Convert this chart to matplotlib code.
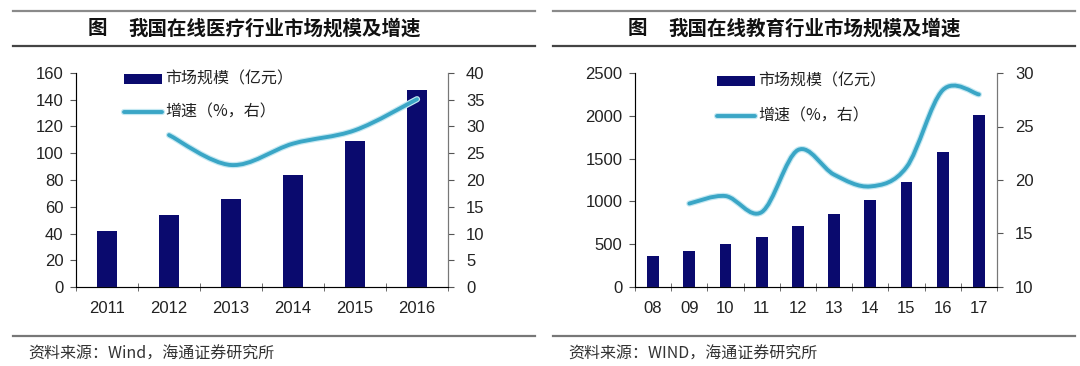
import numpy as np
import matplotlib
matplotlib.use("Agg")
from matplotlib import pyplot as plt
from matplotlib.path import Path
from matplotlib.patches import PathPatch, Rectangle
from matplotlib.lines import Line2D

plt.rcParams['font.family'] = ['Liberation Sans', 'Noto Sans CJK SC', 'DejaVu Sans']
CJK = ['Noto Sans CJK SC', 'DejaVu Sans']

# ---- data ----
med_years = ['2011', '2012', '2013', '2014', '2015', '2016']
med_size = [42, 54, 66, 84, 109, 147]
med_growth = [None, 28.4, 22.8, 26.8, 29.3, 35.1]

edu_years = ['08', '09', '10', '11', '12', '13', '14', '15', '16', '17']
edu_size = [365, 419, 497, 582, 707, 854, 1017, 1227, 1572, 2015]
edu_growth = [None, 17.8, 18.5, 17.0, 22.8, 20.5, 19.4, 21.2, 28.4, 28.0]

BAR = '#0a0a6e'
LINE = '#3aa6c6'
GLOW = '#c4e8f2'

W, H = 1080, 366
fig = plt.figure(figsize=(W / 100, H / 100), dpi=100)


def px(x0, y0, x1, y1):
    return [x0 / W, 1 - y1 / H, (x1 - x0) / W, (y1 - y0) / H]


def smooth_path(xs, ys):
    # Catmull-Rom -> cubic bezier through the data points
    pts = np.column_stack([xs, ys]).astype(float)
    n = len(pts)
    verts = [pts[0]]
    codes = [Path.MOVETO]
    for i in range(n - 1):
        p0 = pts[max(i - 1, 0)]
        p1 = pts[i]
        p2 = pts[i + 1]
        p3 = pts[min(i + 2, n - 1)]
        c1 = p1 + (p2 - p0) / 6
        c2 = p2 - (p3 - p1) / 6
        verts += [c1, c2, p2]
        codes += [Path.CURVE4] * 3
    return Path(verts, codes)


def panel(rect, cats, sizes, growth, ylim, yticks, y2lim, y2ticks, leg_x, leg_y, leg_dy):
    ax = fig.add_axes(px(*rect))
    x = np.arange(len(cats))
    ax.bar(x, sizes, width=0.33, color=BAR, zorder=2)
    ax.set_xlim(-0.5, len(cats) - 0.5)
    ax.set_ylim(*ylim)
    ax.set_yticks(yticks)
    ax.set_xticks(x)
    ax.set_xticklabels(cats, fontsize=12, color='#222222')
    ax.set_xticks(np.arange(-0.5, len(cats)), minor=True)
    ax.tick_params(axis='x', which='major', length=0, pad=10)
    ax.tick_params(axis='x', which='minor', length=6, direction='inout', color='#555555')
    ax.tick_params(axis='y', length=4, direction='out', color='#555555', labelsize=12,
                   labelcolor='#222222', pad=5)
    ax.spines['top'].set_visible(False)
    for s in ['left', 'bottom', 'right']:
        ax.spines[s].set_color('#777777')

    ax2 = ax.twinx()
    ax2.set_ylim(*y2lim)
    ax2.set_yticks(y2ticks)
    ax2.tick_params(axis='y', length=4, direction='out', color='#555555', labelsize=12,
                    labelcolor='#222222', pad=9)
    ax2.spines['top'].set_visible(False)
    ax2.spines['right'].set_color('#777777')
    gx = [i for i, g in enumerate(growth) if g is not None]
    gy = [g for g in growth if g is not None]
    path = smooth_path(gx, gy)
    ax2.add_patch(PathPatch(path, fill=False, edgecolor=GLOW, lw=4.5, capstyle='round', zorder=3))
    ax2.add_patch(PathPatch(path, fill=False, edgecolor=LINE, lw=2.8, capstyle='round', zorder=4))

    # legend drawn in figure pixels
    fig.patches.append(Rectangle((leg_x / W, 1 - (leg_y + 4.5) / H), 38 / W, 9 / H,
                                 transform=fig.transFigure, facecolor=BAR, edgecolor='none'))
    fig.text((leg_x + 41) / W, 1 - leg_y / H, '市场规模（亿元）', family=CJK, fontsize=11.5,
             va='center', ha='left', color='#222222')
    y2 = leg_y + leg_dy
    fig.add_artist(Line2D([leg_x / W, (leg_x + 38) / W], [1 - y2 / H] * 2, color=GLOW, lw=4.5,
                          transform=fig.transFigure, solid_capstyle='round'))
    fig.add_artist(Line2D([leg_x / W, (leg_x + 38) / W], [1 - y2 / H] * 2, color=LINE, lw=2.8,
                          transform=fig.transFigure, solid_capstyle='round'))
    fig.text((leg_x + 41) / W, 1 - y2 / H, '增速（%，右）', family=CJK, fontsize=11.5,
             va='center', ha='left', color='#222222')
    return ax


def frame(x0, x1, fig_x, title, src):
    for y, c in [(11, '#8a8a8a'), (46, '#444444'), (336, '#777777')]:
        fig.add_artist(Line2D([x0 / W, x1 / W], [1 - y / H] * 2, color=c, lw=1.6,
                              transform=fig.transFigure))
    fig.text(fig_x / W, 1 - 29 / H, '图', family=CJK, fontsize=14, fontweight='bold',
             va='center', ha='left', color='#111111')
    fig.text((fig_x + 40) / W, 1 - 29 / H, title, family=CJK, fontsize=14, fontweight='bold',
             va='center', ha='left', color='#111111')
    fig.text((x0 + 15) / W, 1 - 354 / H, src, family=CJK, fontsize=11.5,
             va='center', ha='left', color='#333333')


frame(13, 535, 88, '我国在线医疗行业市场规模及增速', '资料来源：Wind，海通证券研究所')
frame(553, 1075, 628, '我国在线教育行业市场规模及增速', '资料来源：WIND，海通证券研究所')

panel((76, 73, 448, 287), med_years, med_size, med_growth,
      (0, 160), range(0, 161, 20), (0, 40), range(0, 41, 5), 124, 79, 33)
panel((635, 73, 997, 287), edu_years, edu_size, edu_growth,
      (0, 2500), range(0, 2501, 500), (10, 30), range(10, 31, 5), 717, 81, 35)

fig.savefig('out.png', dpi=100)
